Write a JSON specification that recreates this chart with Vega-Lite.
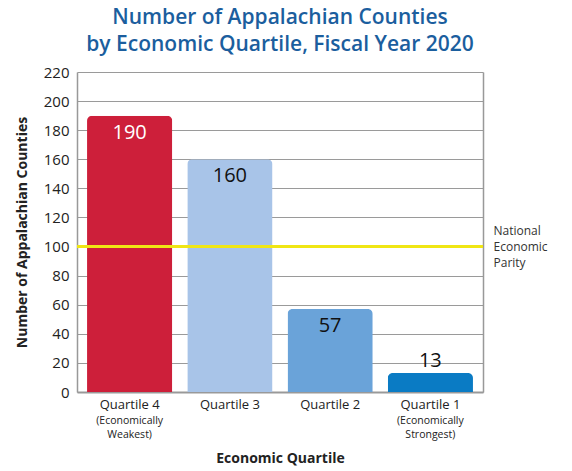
{
  "$schema": "https://vega.github.io/schema/vega-lite/v6.json",
  "width": 406,
  "height": 320,
  "autosize": "none",
  "padding": {"left": 77, "top": 72, "right": 89, "bottom": 79},
  "background": "white",
  "config": {
    "font": "Open Sans",
    "view": {"stroke": null}
  },
  "title": {
    "text": ["Number of Appalachian Counties", "by Economic Quartile, Fiscal Year 2020"],
    "fontSize": 21,
    "fontWeight": 600,
    "lineHeight": 27,
    "color": "#1b5e9e",
    "anchor": "middle",
    "offset": 10
  },
  "datasets": {
    "q": [
      {"quartile": "Quartile 4", "sub": "(Economically\nWeakest)", "count": 190},
      {"quartile": "Quartile 3", "sub": "", "count": 160},
      {"quartile": "Quartile 2", "sub": "", "count": 57},
      {"quartile": "Quartile 1", "sub": "(Economically\nStrongest)", "count": 13}
    ],
    "parity": [{"parity": 100}]
  },
  "resolve": {"axis": {"y": "independent"}},
  "layer": [
    {
      "data": {"name": "q"},
      "mark": {"type": "bar", "cornerRadiusTopLeft": 5, "cornerRadiusTopRight": 5},
      "encoding": {
        "x": {
          "field": "quartile", "type": "nominal",
          "sort": ["Quartile 4", "Quartile 3", "Quartile 2", "Quartile 1"],
          "scale": {"paddingInner": 0.15, "paddingOuter": 0.1},
          "axis": {
            "title": "Economic Quartile",
            "titleFontSize": 14,
            "titleFontWeight": "bold",
            "titleColor": "#222",
            "titlePadding": 40,
            "labelAngle": 0,
            "labelFontSize": 13,
            "labelColor": "#222",
            "labelPadding": 6,
            "ticks": false,
            "domainColor": "#999",
            "domainWidth": 2
          }
        },
        "y": {
          "field": "count", "type": "quantitative",
          "scale": {"domain": [0, 220], "nice": false},
          "axis": {
            "title": "Number of Appalachian Counties",
            "titleFontSize": 14,
            "titleFontWeight": "bold",
            "titleColor": "#222",
            "titlePadding": 14,
            "values": [0, 20, 40, 60, 80, 100, 120, 140, 160, 180, 200, 220],
            "labelFontSize": 15,
            "labelColor": "#222",
            "labelPadding": 8,
            "ticks": false,
            "grid": true,
            "gridColor": "#9a9a9a",
            "gridWidth": 1,
            "domainColor": "#999",
            "domainWidth": 1.5
          }
        },
        "color": {
          "field": "quartile", "type": "nominal", "legend": null,
          "scale": {
            "domain": ["Quartile 4", "Quartile 3", "Quartile 2", "Quartile 1"],
            "range": ["#cd1f3a", "#a8c4e8", "#6aa3d9", "#0a7bc4"]
          }
        }
      }
    },
    {
      "data": {"name": "q"},
      "transform": [{"filter": "datum.count >= 20"}],
      "mark": {"type": "text", "baseline": "top", "dy": 7, "fontSize": 20},
      "encoding": {
        "x": {"field": "quartile", "type": "nominal", "sort": ["Quartile 4", "Quartile 3", "Quartile 2", "Quartile 1"]},
        "y": {"field": "count", "type": "quantitative", "axis": null},
        "text": {"field": "count", "type": "quantitative"},
        "color": {"condition": {"test": "datum.count > 180", "value": "white"}, "value": "#111"}
      }
    },
    {
      "data": {"name": "q"},
      "transform": [{"filter": "datum.count < 20"}],
      "mark": {"type": "text", "baseline": "bottom", "dy": -2, "fontSize": 20, "color": "#111"},
      "encoding": {
        "x": {"field": "quartile", "type": "nominal", "sort": ["Quartile 4", "Quartile 3", "Quartile 2", "Quartile 1"]},
        "y": {"field": "count", "type": "quantitative", "axis": null},
        "text": {"field": "count", "type": "quantitative"}
      }
    },
    {
      "data": {"name": "q"},
      "mark": {"type": "text", "baseline": "top", "dy": 24, "fontSize": 10.5, "lineHeight": 13.5, "lineBreak": "\n", "color": "#222"},
      "encoding": {
        "x": {"field": "quartile", "type": "nominal", "sort": ["Quartile 4", "Quartile 3", "Quartile 2", "Quartile 1"]},
        "y": {"datum": 0, "axis": null},
        "text": {"field": "sub"}
      }
    },
    {
      "data": {"name": "parity"},
      "mark": {"type": "rule", "color": "#f0e614", "strokeWidth": 3},
      "encoding": {
        "y": {
          "field": "parity", "type": "quantitative",
          "axis": {
            "orient": "right",
            "title": null,
            "values": [100],
            "labelExpr": "['National', 'Economic', 'Parity']",
            "labelAlign": "left",
            "labelBaseline": "middle",
            "labelFontSize": 12,
            "labelLineHeight": 16,
            "labelOffset": -16,
            "labelColor": "#333",
            "labelPadding": 10,
            "ticks": false,
            "grid": false,
            "domainColor": "#999",
            "domainWidth": 1.5
          }
        }
      }
    }
  ]
}
